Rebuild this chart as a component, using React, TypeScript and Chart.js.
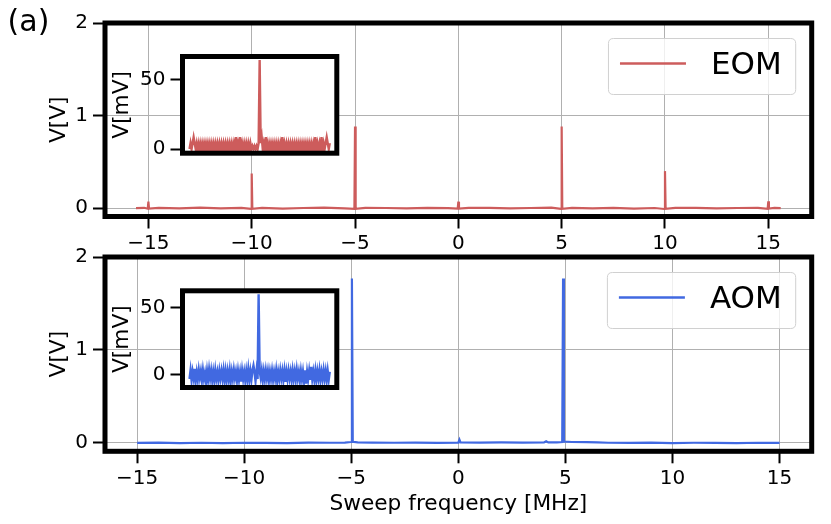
import React, { useEffect, useRef } from 'react';
import { Chart, registerables } from 'chart.js';

Chart.register(...registerables);
Chart.defaults.font.family = '"DejaVu Sans", sans-serif';
Chart.defaults.color = '#000';

// ---------- data ----------
const eomLabel = 'EOM';
const aomLabel = 'AOM';

const eomFreq = [
  -15.6, -15.2, -15.03, -15.0, -14.97, -14.5, -13.5, -12.5, -11.5, -10.5,
  -10.03, -10.0, -9.97, -9.5, -8.5, -7.5, -6.5, -5.5, -5.03, -5.0,
  -4.97, -4.5, -3.5, -2.5, -1.5, -0.5, -0.03, 0.0, 0.03, 0.5,
  1.5, 2.5, 3.5, 4.5, 4.97, 5.0, 5.03, 5.5, 6.5, 7.5,
  8.5, 9.5, 9.97, 10.0, 10.03, 10.5, 11.5, 12.5, 13.5, 14.5,
  14.97, 15.0, 15.03, 15.3, 15.6,
];
const eomVolt = [
  0.0, 0.004, -0.006, 0.07, -0.004, 0.003, -0.002, 0.005, -0.003, 0.004,
  -0.008, 0.375, -0.006, 0.003, -0.004, 0.002, 0.005, -0.003, -0.008, 0.883,
  -0.006, 0.004, 0.002, -0.003, 0.004, 0.001, -0.004, 0.07, -0.005, 0.003,
  0.004, -0.003, 0.002, 0.005, -0.008, 0.883, -0.007, 0.004, -0.002, 0.003,
  -0.004, 0.002, -0.009, 0.4, -0.006, 0.003, 0.004, -0.003, 0.002, 0.004,
  -0.006, 0.075, -0.004, 0.003, 0.0,
];

const aomFreq = [
  -15.0, -14.0, -13.0, -12.0, -11.0, -10.0, -9.0, -8.0, -7.0, -6.0,
  -5.3, -5.01, -4.97, -4.93, -4.7, -4.0, -3.0, -2.0, -1.0, 0.0,
  0.05, 0.1, 1.0, 2.0, 3.0, 4.0, 4.1, 4.2, 4.6, 4.85,
  4.89, 4.93, 5.3, 6.0, 6.5, 7.0, 8.0, 9.0, 10.0, 11.0,
  12.0, 13.0, 14.0, 15.0,
];
const aomVolt = [
  0.0, 0.003, -0.002, 0.002, -0.003, 0.002, 0.001, -0.002, 0.003, 0.002,
  0.004, 0.01, 1.77, 0.012, 0.006, 0.004, 0.002, 0.003, 0.001, 0.004,
  0.035, 0.005, 0.003, 0.006, 0.004, 0.005, 0.018, 0.006, 0.005, 0.01,
  1.77, 0.015, 0.01, 0.008, 0.006, 0.002, 0.001, 0.003, -0.002, 0.002,
  0.001, -0.002, 0.002, 0.0,
];

// inset traces (mV), one value per sample
const eomInsetMilliVolt = [
  0, 4.3, 0, 4.3, 8.6, 4.3, 0, 4.3, 0, 4.3,
  0, 4.3, 0, 4.3, 0, 4.3, 0, 4.3, 0, 4.3,
  0, 4.3, 0, 4.3, 0, 4.3, 0, 4.3, 0, 4.3,
  0, 4.3, 0, 4.3, 0, 4.3, 0, 4.3, 0, 4.3,
  0, 4.3, 0, 4.3, 0, 8.6, 0, 4.3, 0, 8.6,
  0, 4.3, 0, 4.3, 0, 4.3, 0, 4.3, 0, 4.3,
  0, 2.2, 0, 2.2, 0, 2.2, 0, 4.3, 64.5, 4.3,
  8.6, 0, 4.3, 0, 8.6, 0, 4.3, 0, 4.3, 0,
  4.3, 0, 4.3, 0, 4.3, 0, 4.3, 0, 4.3, 0,
  8.6, 0, 4.3, 0, 4.3, 0, 4.3, 0, 4.3, 0,
  4.3, 0, 4.3, 0, 4.3, 0, 4.3, 0, 4.3, 0,
  4.3, 0, 4.3, 0, 4.3, 0, 4.3, 0, 4.3, 0,
  4.3, 0, 8.6, 0, 4.3, 0, 4.3, 0, 8.6, 0,
  4.3, 0, 4.3, 8.6, 4.3, 0, 4.3,
];
const aomInsetMilliVolt = [
  -3, 3.5, -4, 2.5, -2.5, 4.5, -4.5, 2, -3.5, 3.8,
  -2, 2.8, -4, 3.5, -3, 1.5, -5, 3, -3.5, 4,
  -2.5, 3.2, -4, 2.5, -3.8, 3.6, -3, 2, -4.2, 3,
  -2.5, 3, -3, 3.5, -4, 3, -4, 2.8, -3.2, 3.5,
  -4.5, 2.5, -3, 3.8, -2.2, 2.6, -4, 3, -3.5, 2.2,
  -5, 3.3, -3, 2.4, -4, 3, -3.3, 4.2, -3.5, 2.8,
  -3.5, 3.5, 7, 2.2, -4.5, 3.2, -3, 60, 3, -2,
  3.5, -4, 2.8, -3.2, 3.5, -2.5, 3, -4, 2.5, -3,
  3.2, -3.6, 2.4, -2.8, 3.6, -4.4, 2.2, -3, 3.4, -2.6,
  2.9, -3.8, 3.1, -5.2, 2.5, -3, 3.3, -2.4, 2.6, -4,
  3.4, -3.1, 2.7, -3.5, 3.9, -2.7, 2.3, -4.1, 3, -3.3,
  2.5, -4.6, 3.5, -6.5, 2.4, -3.2, 3.1, -3.7, 6, -2.9,
  2.6, -3.4, 3.2, -4.2, 2.8, -2.5, 3.6, -3.9, 2.3, -3.1,
  3.5, -2.8, 2.9, -4, 3.1, -3.3, 2.4,
];

const xTickValues = [-15, -10, -5, 0, 5, 10, 15];
const yTickValues = [0, 1, 2];
const insetYTickValues = [0, 50];

const xAxisTitle = 'Sweep frequency [MHz]';
const yAxisTitle = 'V[V]';
const insetYAxisTitle = 'V[mV]';
const panelTag = '(a)';

const EOM_COLOR = '#cd5c5c';
const AOM_COLOR = '#4169e1';

// ---------- helpers ----------
const fmtTick = (v: number) => (v < 0 ? '\u2212' + Math.abs(v) : String(v));

const framePlugin = {
  id: 'frame',
  afterDatasetsDraw(chart: any) {
    const { ctx, chartArea: a } = chart;
    ctx.save();
    ctx.lineWidth = 5;
    ctx.strokeStyle = '#000';
    ctx.lineJoin = 'miter';
    ctx.strokeRect(a.left, a.top, a.right - a.left, a.bottom - a.top);
    ctx.restore();
  },
};

const whiteBgPlugin = {
  id: 'whiteBg',
  beforeDraw(chart: any) {
    const { ctx, chartArea: a } = chart;
    ctx.save();
    ctx.fillStyle = '#fff';
    ctx.fillRect(a.left, a.top, a.right - a.left, a.bottom - a.top);
    ctx.restore();
  },
};

const boxLegendPlugin = {
  id: 'boxLegend',
  afterDraw(chart: any) {
    const ds = chart.data.datasets[0];
    const { ctx, chartArea: a } = chart;
    ctx.save();
    ctx.font = '31px "DejaVu Sans", sans-serif';
    const tw = ctx.measureText(ds.label).width;
    const w = 11.5 + 66 + 25 + tw + 14;
    const h = 56;
    const x = a.right - 16 - w;
    const y = a.top + 15.5;
    const r = 5;
    ctx.beginPath();
    ctx.moveTo(x + r, y);
    ctx.lineTo(x + w - r, y);
    ctx.quadraticCurveTo(x + w, y, x + w, y + r);
    ctx.lineTo(x + w, y + h - r);
    ctx.quadraticCurveTo(x + w, y + h, x + w - r, y + h);
    ctx.lineTo(x + r, y + h);
    ctx.quadraticCurveTo(x, y + h, x, y + h - r);
    ctx.lineTo(x, y + r);
    ctx.quadraticCurveTo(x, y, x + r, y);
    ctx.closePath();
    ctx.fillStyle = 'rgba(255,255,255,0.8)';
    ctx.fill();
    ctx.lineWidth = 1;
    ctx.strokeStyle = '#d0d0d0';
    ctx.stroke();
    ctx.beginPath();
    ctx.moveTo(x + 11.5, y + 25);
    ctx.lineTo(x + 77.5, y + 25);
    ctx.lineWidth = 2.5;
    ctx.strokeStyle = ds.borderColor;
    ctx.stroke();
    ctx.fillStyle = '#000';
    ctx.textBaseline = 'middle';
    ctx.textAlign = 'left';
    ctx.fillText(ds.label, x + 102.5, y + 27);
    ctx.restore();
  },
};

const tagPlugin = {
  id: 'tag',
  afterDraw(chart: any) {
    const { ctx } = chart;
    ctx.save();
    ctx.font = '30px "DejaVu Sans", sans-serif';
    ctx.fillStyle = '#000';
    ctx.textBaseline = 'alphabetic';
    ctx.textAlign = 'left';
    ctx.fillText(panelTag, 7.6, 31.3);
    ctx.restore();
  },
};

const gridStyle = {
  color: '#b0b0b0',
  lineWidth: 1,
  tickLength: 12,
  tickColor: '#000',
  tickWidth: 2,
};

function mainConfig(p: {
  freq: number[];
  volt: number[];
  color: string;
  label: string;
  xMin: number;
  xMax: number;
  padTop: number;
  xHeight: number;
  xTitle?: string;
  tag?: boolean;
}): any {
  const plugins: any[] = [framePlugin, boxLegendPlugin];
  if (p.tag) plugins.push(tagPlugin);
  return {
    type: 'line',
    data: {
      datasets: [
        {
          label: p.label,
          data: p.freq.map((f, i) => ({ x: f, y: p.volt[i] })),
          borderColor: p.color,
          borderWidth: 2.2,
          pointRadius: 0,
          tension: 0,
          fill: false,
        },
      ],
    },
    options: {
      animation: false,
      responsive: false,
      maintainAspectRatio: false,
      events: [],
      layout: { padding: { left: 0, right: 19.3, top: p.padTop, bottom: 0 } },
      plugins: { legend: { display: false }, tooltip: { enabled: false } },
      scales: {
        x: {
          type: 'linear',
          min: p.xMin,
          max: p.xMax,
          afterBuildTicks: (s: any) => {
            s.ticks = xTickValues.map((v) => ({ value: v }));
          },
          afterFit: (s: any) => {
            s.height = p.xHeight;
          },
          ticks: {
            font: { size: 20 },
            color: '#000',
            padding: 3,
            maxRotation: 0,
            autoSkip: false,
            callback: (v: number) => fmtTick(v),
          },
          grid: gridStyle,
          border: { display: false },
          title: p.xTitle
            ? {
                display: true,
                text: p.xTitle,
                font: { size: 21.7 },
                color: '#000',
                padding: { top: 0, bottom: 6.8 },
              }
            : { display: false },
        },
        y: {
          type: 'linear',
          min: -0.09,
          max: 2.0,
          afterBuildTicks: (s: any) => {
            s.ticks = yTickValues.map((v) => ({ value: v }));
          },
          afterFit: (s: any) => {
            s.width = 105;
          },
          ticks: {
            font: { size: 20 },
            color: '#000',
            padding: 5,
            callback: (v: number) => fmtTick(v),
          },
          grid: gridStyle,
          border: { display: false },
          title: {
            display: true,
            text: yAxisTitle,
            font: { size: 21.7 },
            color: '#000',
            padding: { top: 46.3, bottom: 0 },
          },
        },
      },
    },
    plugins,
  };
}

function insetConfig(p: {
  values: number[];
  color: string;
  yMin: number;
  yMax: number;
  padTop: number;
  padBottom: number;
}): any {
  const n = p.values.length - 1;
  return {
    type: 'line',
    data: {
      datasets: [
        {
          label: 'inset',
          data: p.values.map((v, i) => ({ x: i, y: v })),
          borderColor: p.color,
          borderWidth: 2.4,
          pointRadius: 0,
          tension: 0,
          fill: false,
        },
      ],
    },
    options: {
      animation: false,
      responsive: false,
      maintainAspectRatio: false,
      events: [],
      layout: { padding: { left: 0, right: 18.2, top: p.padTop, bottom: p.padBottom } },
      plugins: { legend: { display: false }, tooltip: { enabled: false } },
      scales: {
        x: {
          type: 'linear',
          display: false,
          min: -0.05 * n,
          max: 1.05 * n,
        },
        y: {
          type: 'linear',
          min: p.yMin,
          max: p.yMax,
          afterBuildTicks: (s: any) => {
            s.ticks = insetYTickValues.map((v) => ({ value: v }));
          },
          afterFit: (s: any) => {
            s.width = 87.5;
          },
          ticks: {
            font: { size: 20 },
            color: '#000',
            padding: 5,
            callback: (v: number) => fmtTick(v),
          },
          grid: { ...gridStyle, drawOnChartArea: false },
          border: { display: false },
          title: {
            display: true,
            text: insetYAxisTitle,
            font: { size: 21.7 },
            color: '#000',
            padding: { top: 14.6, bottom: 0 },
          },
        },
      },
    },
    plugins: [whiteBgPlugin, framePlugin],
  };
}

function ChartCanvas(props: {
  left: number;
  top: number;
  width: number;
  height: number;
  build: () => any;
}) {
  const ref = useRef<HTMLCanvasElement>(null);
  useEffect(() => {
    const chart = new Chart(ref.current as HTMLCanvasElement, props.build());
    return () => chart.destroy();
  }, []);
  return (
    <canvas
      ref={ref}
      width={props.width}
      height={props.height}
      style={{
        position: 'absolute',
        left: props.left,
        top: props.top,
        width: props.width,
        height: props.height,
      }}
    />
  );
}

export default function App() {
  return (
    <div
      style={{
        position: 'absolute',
        left: 0,
        top: 0,
        width: 831,
        height: 524,
        background: '#fff',
        overflow: 'hidden',
      }}
    >
      <ChartCanvas
        left={0}
        top={0}
        width={831}
        height={262}
        build={() =>
          mainConfig({
            freq: eomFreq,
            volt: eomVolt,
            color: EOM_COLOR,
            label: eomLabel,
            xMin: -17.1,
            xMax: 17.1,
            padTop: 23,
            xHeight: 45.5,
            tag: true,
          })
        }
      />
      <ChartCanvas
        left={0}
        top={230}
        width={831}
        height={294}
        build={() =>
          mainConfig({
            freq: aomFreq,
            volt: aomVolt,
            color: AOM_COLOR,
            label: aomLabel,
            xMin: -16.5,
            xMax: 16.5,
            padTop: 27,
            xHeight: 72.7,
            xTitle: xAxisTitle,
          })
        }
      />
      <ChartCanvas
        left={95}
        top={35}
        width={260}
        height={138}
        build={() =>
          insetConfig({
            values: eomInsetMilliVolt,
            color: EOM_COLOR,
            yMin: -3.0,
            yMax: 67,
            padTop: 21.5,
            padBottom: 19.8,
          })
        }
      />
      <ChartCanvas
        left={95}
        top={270}
        width={260}
        height={138}
        build={() =>
          insetConfig({
            values: aomInsetMilliVolt,
            color: AOM_COLOR,
            yMin: -9.3,
            yMax: 62.5,
            padTop: 20.8,
            padBottom: 20.5,
          })
        }
      />
    </div>
  );
}
